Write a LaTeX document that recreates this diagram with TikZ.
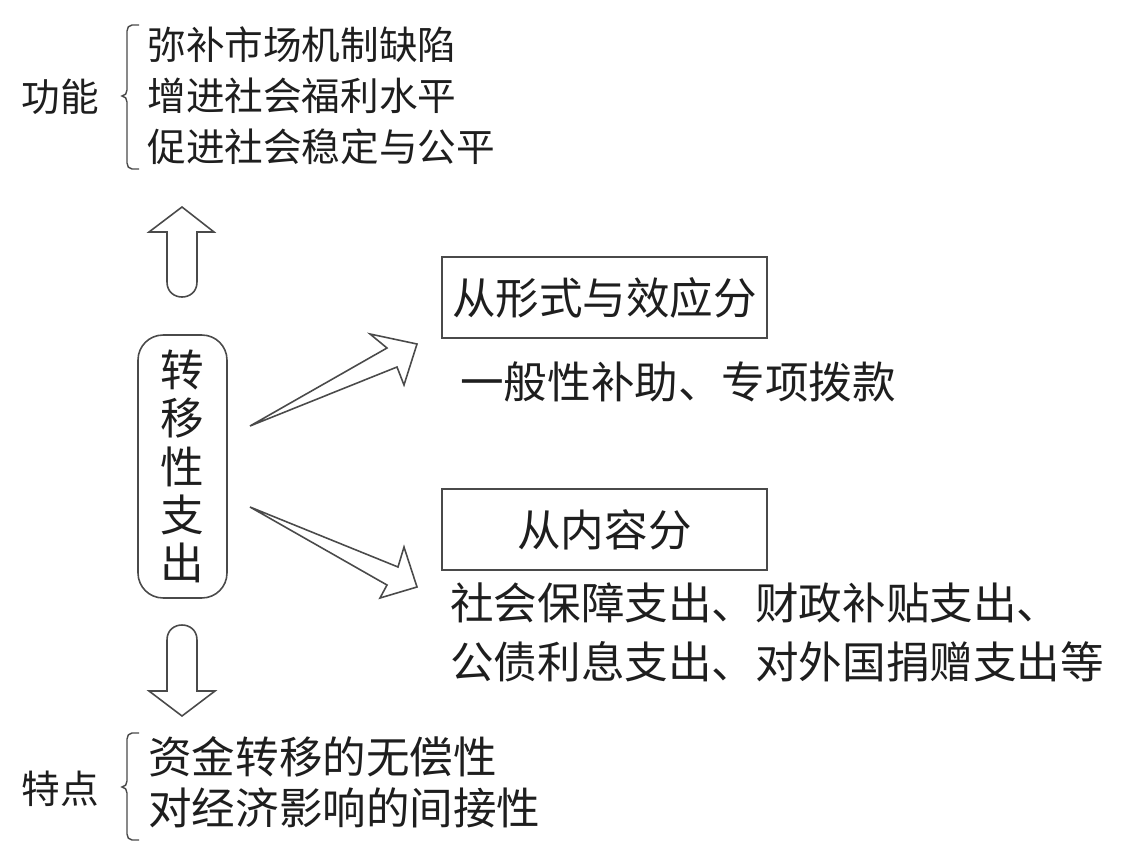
\documentclass[tikz,border=0pt]{standalone}
\usepackage{fontspec}
\setmainfont{Noto Sans CJK SC}
\usepackage{xcolor}
\definecolor{ink}{HTML}{1E1E1E}
\definecolor{rule}{HTML}{4A4A4A}
\usepackage{tikz}

\begin{document}
\begin{tikzpicture}[x=0.02cm,y=-0.02cm,
    item/.style={anchor=west,inner sep=0pt,text=ink,
      font=\fontsize{22}{26}\selectfont},
    itembig/.style={item,font=\fontsize{24.8}{29}\selectfont},
    kind/.style={draw=rule,line width=.9pt,inner sep=0pt,text=ink,
      minimum width=6.5cm,minimum height=1.62cm,
      font=\fontsize{24.8}{29}\selectfont},
    hollow/.style={draw=rule,line width=.9pt,fill=white,line join=miter},
    brace/.style={draw=rule,line width=.8pt}]
    \useasboundingbox (0,0) rectangle (1140,862);
    \node[draw=rule,line width=.9pt,rounded corners=.5cm,inner sep=0pt,
      minimum width=1.78cm,minimum height=5.26cm,align=center,text=ink,
      font=\fontsize{24.8}{27.5}\selectfont] (core) at (182.5,466.5)
      {转\\移\\性\\支\\出};
    \node[item,anchor=center] (func) at (60,97) {功能};
    \node[item] (func1) at (147,45) {弥补市场机制缺陷};
    \node[item] (func2) at (147,96) {增进社会福利水平};
    \node[item] (func3) at (147,147) {促进社会稳定与公平};
    \draw[brace] (139,25) -- (132,25) to[out=180,in=90] (127,31) -- (127,90)
      to[out=-90,in=0] (122,96) to[out=0,in=90] (127,102) -- (127,163)
      to[out=-90,in=180] (132,169) -- (139,169);
    \node[item,anchor=center] (trait) at (60,789) {特点};
    \node[itembig] (trait1) at (148,757) {资金转移的无偿性};
    \node[itembig] (trait2) at (148,808) {对经济影响的间接性};
    \draw[brace] (139,733) -- (132,733) to[out=180,in=90] (127,739) -- (127,781)
      to[out=-90,in=0] (122,787) to[out=0,in=90] (127,793) -- (127,834)
      to[out=-90,in=180] (132,840) -- (139,840);
    \node[kind] (form) at (604.5,297.5) {从形式与效应分};
    \node[itembig] (form1) at (460,382) {一般性补助、专项拨款};
    \node[kind] (content) at (604.5,529.5) {从内容分};
    \node[itembig] (content1) at (450,603) {社会保障支出、财政补贴支出、};
    \node[itembig] (content2) at (450,662) {公债利息支出、对外国捐赠支出等};
    \draw[hollow] (182,207) -- (214,232) -- (197,232) -- (197,282)
      .. controls (197,302) and (167,302) .. (167,282) -- (167,232)
      -- (149,232) -- cycle;
    \draw[hollow] (182,716) -- (215,691) -- (197,691) -- (197,640)
      .. controls (197,620) and (167,620) .. (167,640) -- (167,691)
      -- (149,691) -- cycle;
    \draw[hollow] (250,426) -- (387,348) -- (370,334) -- (417,344)
      -- (404,385) -- (397,367) -- cycle;
    \draw[hollow] (250,507) -- (398,567) -- (404,547) -- (417,587)
      -- (380,598) -- (387,585) -- cycle;
  \end{tikzpicture}
\end{document}
